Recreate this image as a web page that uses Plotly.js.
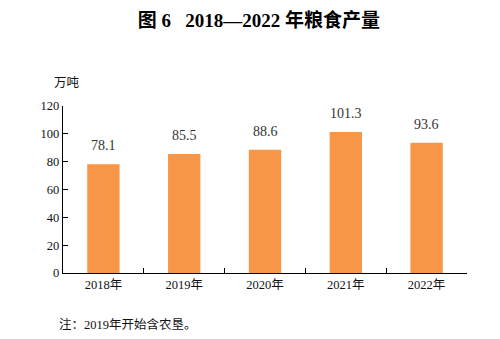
<!DOCTYPE html>
<html>
<head>
<meta charset="utf-8">
<script src="https://cdn.plot.ly/plotly-3.0.1.min.js"></script>
<style>html,body{margin:0;padding:0;background:#fff}#chart{width:500px;height:339px}</style>
</head>
<body>
<div id="chart"></div>
<script>
const categories = ["2018年", "2019年", "2020年", "2021年", "2022年"];
const values = [78.1, 85.5, 88.6, 101.3, 93.6];
const labels = ["78.1", "85.5", "88.6", "101.3", "93.6"];
const yTicks = [0, 20, 40, 60, 80, 100, 120];

const FONT = "Liberation Serif, 'Noto Sans CJK SC', serif";

const trace = {
  type: "bar",
  x: categories,
  y: values,
  width: 0.4,
  marker: {color: "#F79646"},
  hoverinfo: "none"
};

const valueAnnotations = categories.map((c, i) => ({
  x: c, y: values[i], xref: "x", yref: "y",
  text: labels[i], showarrow: false,
  yanchor: "bottom", yshift: 9,
  font: {family: FONT, size: 14, color: "#333"}
}));

const layout = {
  width: 500, height: 339,
  margin: {l: 63, r: 33, t: 106, b: 66},
  paper_bgcolor: "#fff", plot_bgcolor: "#fff",
  showlegend: false,
  title: {
    text: "<b>图 6   2018—2022 年粮食产量</b>",
    x: 0.518, xanchor: "center", y: 0.94, yanchor: "middle",
    font: {family: FONT, size: 19, color: "#000"}
  },
  xaxis: {
    type: "category",
    showline: true, linecolor: "#000", linewidth: 1.2,
    ticks: "inside", tickson: "boundaries", ticklen: 5, tickcolor: "#000",
    showgrid: false, zeroline: false,
    tickfont: {family: FONT, size: 12.5, color: "#111"},
    fixedrange: true
  },
  yaxis: {
    range: [0, 120], tickvals: yTicks,
    showline: true, linecolor: "#000", linewidth: 1.2,
    ticks: "inside", ticklen: 5, tickcolor: "#000",
    showgrid: false, zeroline: false,
    tickfont: {family: FONT, size: 12.5, color: "#111"},
    fixedrange: true
  },
  annotations: valueAnnotations.concat([
    {
      xref: "paper", yref: "paper", x: 0.01, y: 1.14,
      xanchor: "center", yanchor: "middle", showarrow: false,
      text: "万吨", font: {family: FONT, size: 12.5, color: "#111"}
    },
    {
      xref: "paper", yref: "paper", x: -0.015, y: -0.31,
      xanchor: "left", yanchor: "middle", showarrow: false,
      text: "注：2019年开始含农垦。", font: {family: FONT, size: 12.5, color: "#111"}
    }
  ])
};

Plotly.newPlot("chart", [trace], layout, {displayModeBar: false, staticPlot: true});
</script>
</body>
</html>
